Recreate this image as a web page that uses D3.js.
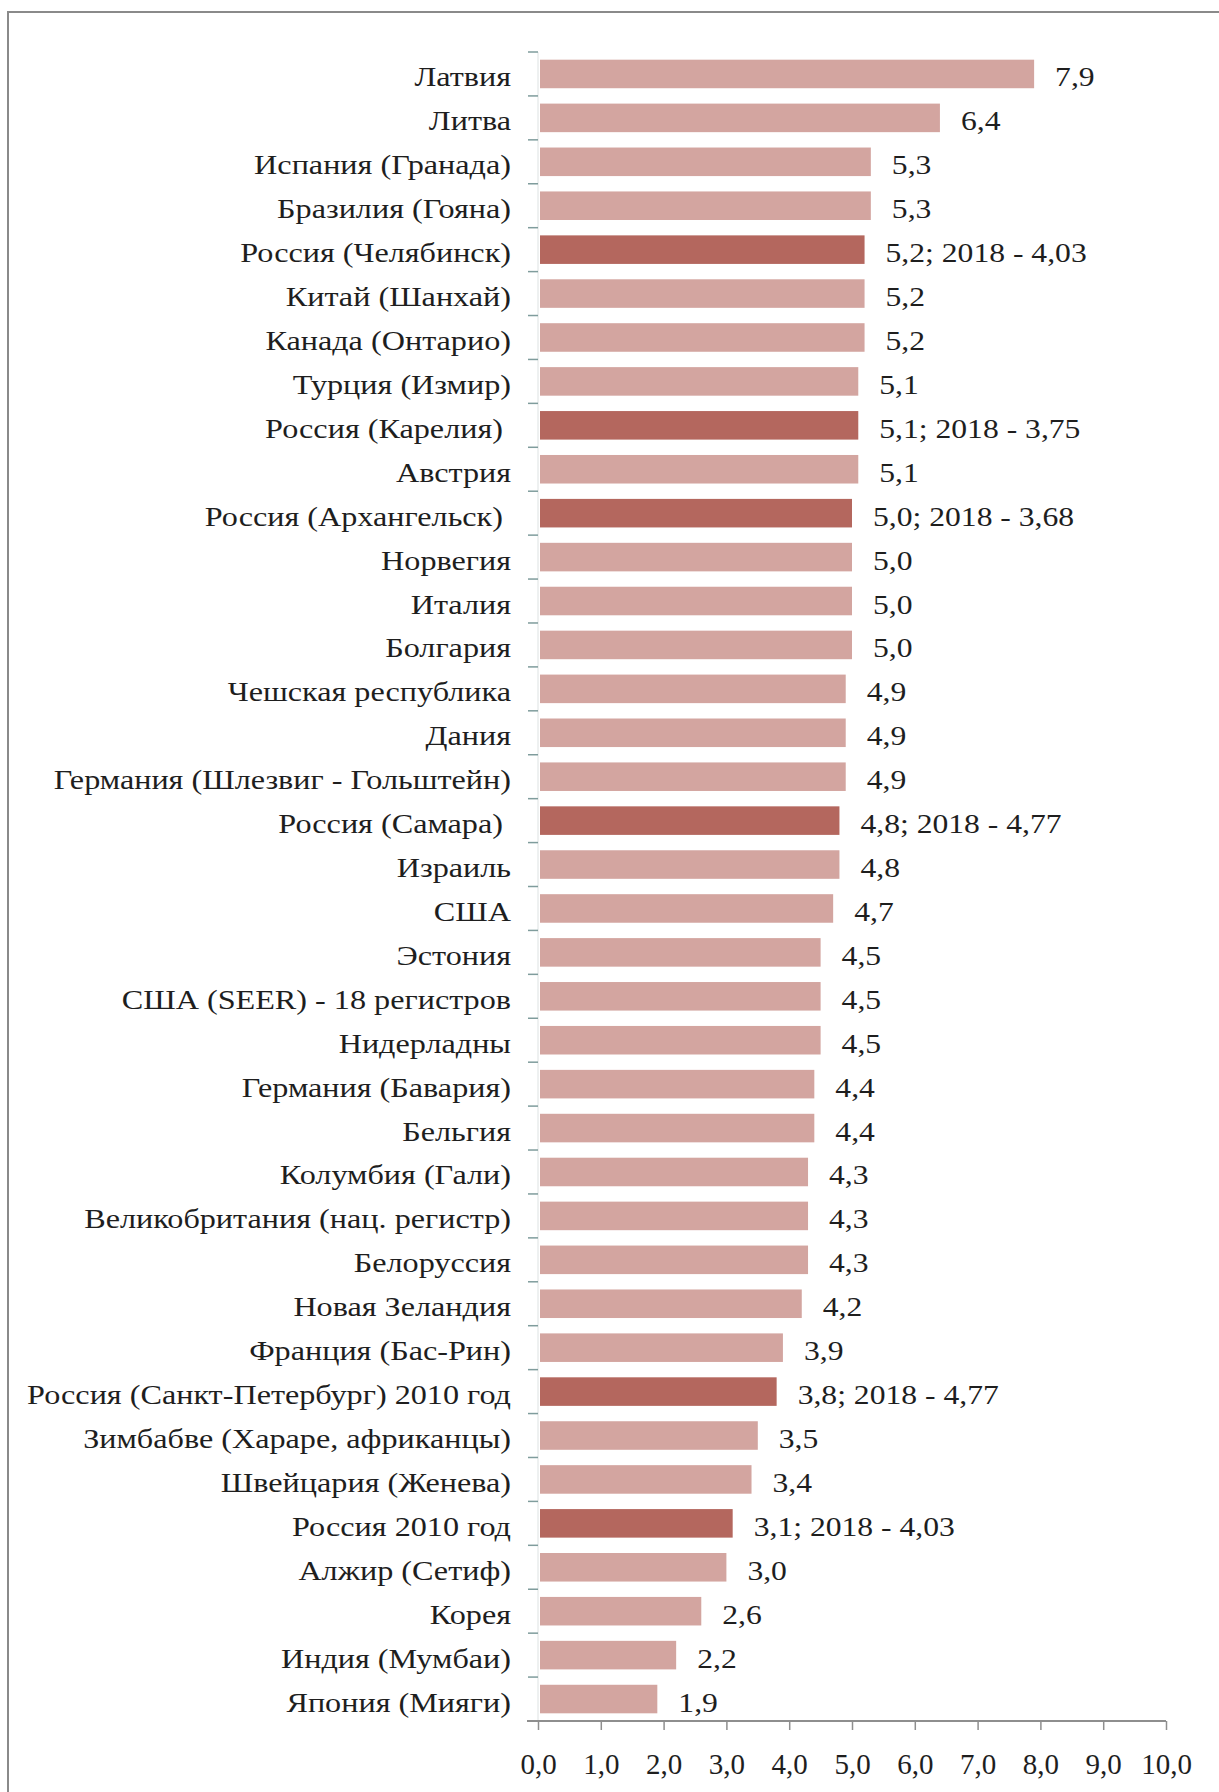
<!DOCTYPE html>
<html><head><meta charset="utf-8">
<script src="https://cdn.jsdelivr.net/npm/d3@7"></script>
<style>
html,body{margin:0;padding:0;background:#fff;}
svg{display:block;}
text{font-family:"Liberation Serif","Times New Roman",serif;fill:#1e1e1e;white-space:pre;}
</style></head><body>
<svg id="c" width="1219" height="1792"></svg>
<script>
const categories = [
"Латвия","Литва","Испания (Гранада)","Бразилия (Гояна)","Россия (Челябинск)",
"Китай (Шанхай)","Канада (Онтарио)","Турция (Измир)","Россия (Карелия) ","Австрия",
"Россия (Архангельск) ","Норвегия","Италия","Болгария","Чешская республика",
"Дания","Германия (Шлезвиг - Гольштейн)","Россия (Самара) ","Израиль","США",
"Эстония","США (SEER) - 18 регистров","Нидерладны","Германия (Бавария)","Бельгия",
"Колумбия (Гали)","Великобритания (нац. регистр)","Белоруссия","Новая Зеландия","Франция (Бас-Рин)",
"Россия (Санкт-Петербург) 2010 год","Зимбабве (Хараре, африканцы)","Швейцария (Женева)","Россия 2010 год","Алжир (Сетиф)",
"Корея","Индия (Мумбаи)","Япония (Мияги)"];
const values = [7.9,6.4,5.3,5.3,5.2,5.2,5.2,5.1,5.1,5.1,5.0,5.0,5.0,5.0,4.9,4.9,4.9,4.8,4.8,4.7,
4.5,4.5,4.5,4.4,4.4,4.3,4.3,4.3,4.2,3.9,3.8,3.5,3.4,3.1,3.0,2.6,2.2,1.9];
// 2018 values for Russian registries (null = none)
const values2018 = [null,null,null,null,4.03,null,null,null,3.75,null,3.68,null,null,null,null,null,null,4.77,null,null,
null,null,null,null,null,null,null,null,null,null,4.77,null,null,4.03,null,null,null,null];
const xTicks = [0,1,2,3,4,5,6,7,8,9,10];

const fmt1 = v => v.toFixed(1).replace(".", ",");
const fmt2 = v => v.toFixed(2).replace(".", ",");

const svg = d3.select("#c");
const LIGHT = "#d3a5a0", DARK = "#b4675e", AXIS = "#8e8e8e";
const x0 = 538, x1 = 1166, yTop = 52, yBot = 1721;
const SX = 1.15, SXV = 1.13, DY = 12.5;

// frame
svg.append("rect").attr("x",8).attr("y",12).attr("width",1240).attr("height",1820)
  .attr("fill","none").attr("stroke","#8a8a8a").attr("stroke-width",2);

const x = d3.scaleLinear().domain([0,10]).range([x0,x1]);
const y = d3.scaleBand().domain(d3.range(categories.length)).range([yTop,yBot])
  .paddingInner(0.35).paddingOuter(0.175);

const isRu = i => values2018[i] !== null;

// bars
svg.append("g").selectAll("rect").data(values).join("rect")
  .attr("x", x(0)+2).attr("y",(d,i)=>y(i))
  .attr("width",d=>x(d)-x(0)-2).attr("height",y.bandwidth())
  .attr("fill",(d,i)=>isRu(i)?DARK:LIGHT);

// y axis: faint line and boundary ticks
svg.append("line").attr("x1",x0).attr("x2",x0).attr("y1",yTop).attr("y2",yBot)
  .attr("stroke","#dde2e2").attr("stroke-width",1);
const bounds = d3.range(categories.length+1).map(i => i<categories.length ? y(i)-y.step()*0.175 : yBot);
svg.append("g").selectAll("line").data(bounds).join("line")
  .attr("x1",x0-10).attr("x2",x0).attr("y1",d=>d).attr("y2",d=>d)
  .attr("stroke","#7f9c9c").attr("stroke-width",1.5);

// category labels
svg.append("g").selectAll("text").data(categories).join("text")
  .attr("transform",(d,i)=>`translate(${x0-27},${y(i)+y.bandwidth()/2+DY}) scale(${SX},1)`)
  .attr("text-anchor","end").attr("font-size",28)
  .text(d=>d.replace(/ $/,"\u00a0"));

// value labels
svg.append("g").selectAll("text").data(values).join("text")
  .attr("transform",(d,i)=>`translate(${x(d)+21},${y(i)+y.bandwidth()/2+DY}) scale(${SXV},1)`)
  .attr("font-size",28)
  .text((d,i)=> isRu(i) ? `${fmt1(d)}; 2018 - ${fmt2(values2018[i])}` : fmt1(d));

// x axis
const xa = svg.append("g").attr("transform",`translate(0,${yBot})`)
  .call(d3.axisBottom(x).tickValues(xTicks).tickSize(9).tickPadding(23).tickFormat(fmt1));
xa.select(".domain").remove();
xa.insert("line",":first-child").attr("x1",x0-11).attr("x2",x1).attr("y1",0).attr("y2",0)
  .attr("stroke",AXIS).attr("stroke-width",2);
xa.selectAll(".tick line").attr("stroke",AXIS).attr("stroke-width",1.5);
xa.selectAll(".tick text").attr("font-size",29).attr("fill","#1e1e1e")
  .attr("font-family","Liberation Serif, Times New Roman, serif");
</script>
</body></html>
